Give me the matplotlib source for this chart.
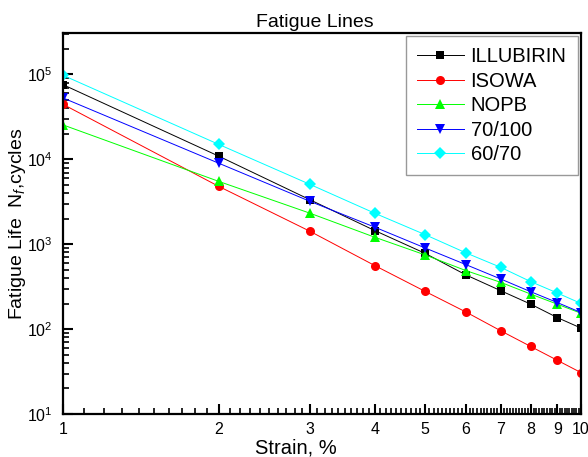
import numpy as np
import matplotlib
matplotlib.use("Agg")
import matplotlib.pyplot as plt
from matplotlib.ticker import FixedLocator, FixedFormatter, NullFormatter, LogLocator

plt.rcParams["font.family"] = ["Liberation Sans", "DejaVu Sans"]
plt.rcParams["mathtext.fontset"] = "custom"
plt.rcParams["mathtext.rm"] = "Liberation Sans"
plt.rcParams["mathtext.it"] = "Liberation Sans:italic"

# ====== Data ======
strain = [1, 2, 3, 4, 5, 6, 7, 8, 9, 10]
illubirin = [76000, 10900, 3340, 1450, 783, 435, 284, 197, 137, 103]
isowa = [44600, 4800, 1420, 561, 279, 159, 95.7, 62.5, 43, 30.8]
nopb = [25500, 5500, 2320, 1210, 750, 489, 356, 259, 197, 154]
pen_70_100 = [53000, 9000, 3200, 1590, 906, 575, 390, 276, 206, 157]
pen_60_70 = [98000, 15000, 5070, 2320, 1300, 791, 535, 363, 267, 201]

series = [
    ("ILLUBIRIN", illubirin, "black", "s", 6.0),
    ("ISOWA", isowa, "red", "o", 6.5),
    ("NOPB", nopb, "#00ff00", "^", 7.0),
    ("70/100", pen_70_100, "blue", "v", 7.0),
    ("60/70", pen_60_70, "cyan", "D", 6.0),
]

fig = plt.figure(figsize=(5.88, 4.57), dpi=100)
ax = fig.add_axes([0.107, 0.094, 0.881, 0.834])

for name, vals, color, marker, ms in series:
    ax.plot(strain, vals, color=color, marker=marker, markersize=ms,
            linewidth=0.7, label=name, markeredgewidth=0)

ax.set_xscale("log")
ax.set_yscale("log")
ax.set_xlim(1, 10)
ax.set_ylim(10, 10 ** 5.49)

ax.xaxis.set_major_locator(FixedLocator(strain))
ax.xaxis.set_major_formatter(FixedFormatter([str(s) for s in strain]))
ax.xaxis.set_minor_locator(FixedLocator(np.arange(1.1, 10.0, 0.1)))
ax.xaxis.set_minor_formatter(NullFormatter())
ax.yaxis.set_major_locator(LogLocator(base=10, numticks=10))
ax.yaxis.set_minor_locator(LogLocator(base=10, subs=np.arange(2, 10), numticks=10))

ax.tick_params(which="major", direction="in", length=7, width=1.5, labelsize=11.5,
               top=False, right=False, pad=6)
ax.tick_params(axis="y", which="major", pad=7.5)
ax.tick_params(which="minor", direction="in", length=4, width=1.2,
               top=False, right=False)
for sp in ax.spines.values():
    sp.set_linewidth(1.6)

ax.set_title("Fatigue Lines", fontsize=14, pad=4, x=0.487)
ax.set_xlabel("Strain, %", fontsize=14.5, labelpad=1, x=0.45)
ax.set_ylabel("Fatigue Life  N$_f$,cycles", fontsize=14, labelpad=-1)

leg = ax.legend(loc="upper right", fontsize=14.5, frameon=True, fancybox=False,
                edgecolor="gray", handlelength=2.3, borderpad=0.55,
                labelspacing=0.27, handletextpad=0.35, borderaxespad=0.17)
leg.get_frame().set_linewidth(1.0)

fig.savefig("out.png", dpi=100)
